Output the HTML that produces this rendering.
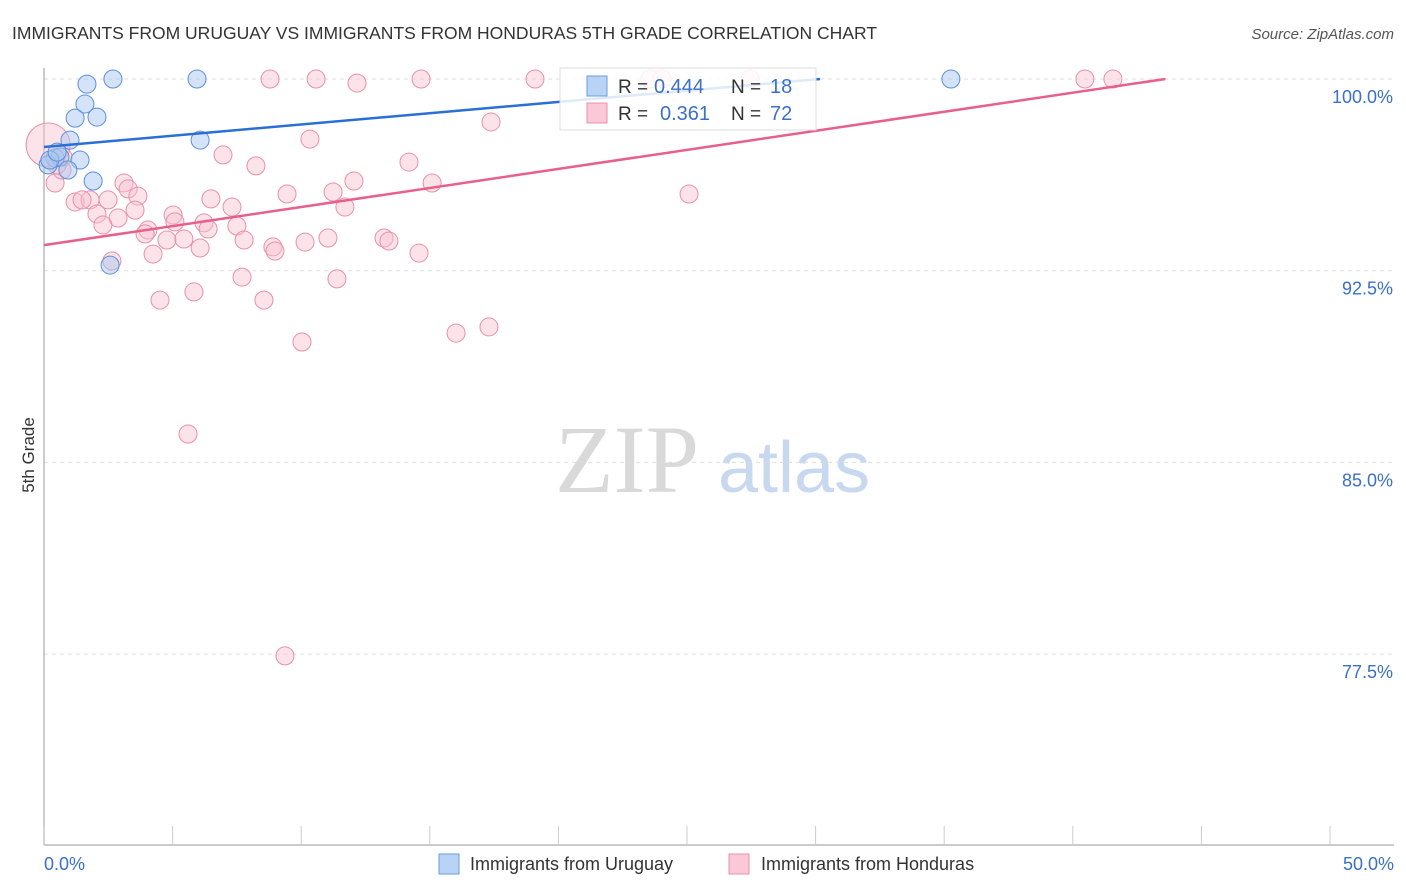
<!DOCTYPE html>
<html><head><meta charset="utf-8"><style>
body{margin:0;background:#fff;font-family:"Liberation Sans",sans-serif;}
svg{display:block}
</style></head><body>
<svg id="chart" width="1406" height="892">
<text x="12" y="39" font-size="17.5" fill="#333">IMMIGRANTS FROM URUGUAY VS IMMIGRANTS FROM HONDURAS 5TH GRADE CORRELATION CHART</text>
<text x="1394" y="39" font-size="15" fill="#555" text-anchor="end" font-style="italic">Source: ZipAtlas.com</text>
<text x="34" y="455" font-size="17" fill="#333" text-anchor="middle" transform="rotate(-90 34 455)">5th Grade</text>
<text x="555" y="492" font-size="96" fill="#d9d9d9" font-family="Liberation Serif,serif">ZIP</text>
<text x="718" y="492" font-size="72" fill="#c7d8ef">atlas</text>
<g id="grid"></g><g id="axes"></g><g id="pts"></g><g id="lines"></g>
<g>
<rect x="560" y="68" width="256" height="62" fill="#fff" fill-opacity="0.85" stroke="#ddd"/>
<rect x="587" y="76" width="20" height="20" fill="#b9d3f5" stroke="#6a9ee0"/>
<text x="618" y="93" font-size="19" fill="#333">R = </text><text x="654" y="93" font-size="20" fill="#3a70c8">0.444</text>
<text x="731" y="93" font-size="19" fill="#333">N = </text><text x="770" y="93" font-size="20" fill="#3a70c8">18</text>
<rect x="587" y="103" width="20" height="20" fill="#fac8d6" stroke="#e890aa"/>
<text x="618" y="120" font-size="19" fill="#333">R = </text><text x="660" y="120" font-size="20" fill="#3a70c8">0.361</text>
<text x="731" y="120" font-size="19" fill="#333">N = </text><text x="770" y="120" font-size="20" fill="#3a70c8">72</text>
</g>
<g>
<rect x="439" y="854" width="20" height="20" fill="#b9d3f5" stroke="#6a9ee0"/>
<text x="470" y="870" font-size="18" fill="#333">Immigrants from Uruguay</text>
<rect x="729" y="854" width="20" height="20" fill="#fac8d6" stroke="#e890aa"/>
<text x="761" y="870" font-size="18" fill="#333">Immigrants from Honduras</text>
</g>
</svg>
<script>
const xTickLabels=["0.0%","50.0%"];
const yTicks=[100,92.5,85,77.5];
const yTickLabels=["100.0%","92.5%","85.0%","77.5%"];
const uruguayX=[1.67,2.68,5.95,35.26,1.59,1.21,2.06,1.01,6.07,1.40,1.91,2.57,0.43,0.62,0.93,0.16,0.23,0.51];
const uruguayY=[99.8,100,100,100,99.02,98.47,98.51,97.61,97.61,96.83,96.01,92.72,96.91,96.95,96.44,96.64,96.83,97.14];
const hondurasX=[8.79,10.58,12.17,14.66,19.09,17.38,10.34,6.96,8.24,14.19,12.05,15.09,25.08,3.11,3.27,3.65,2.49,1.21,1.79,1.48,2.06,3.54,2.88,2.29,6.22,6.49,7.31,9.45,11.24,11.70,5.02,5.09,4.04,3.93,4.78,5.44,6.38,6.07,7.50,7.78,8.90,8.98,10.15,11.04,13.22,13.41,14.58,4.24,2.64,7.70,4.51,5.83,8.55,11.39,10.03,16.02,17.30,5.60,9.37,40.47,41.56,23.56,24.03,27.45,0.16,0.43,0.70,0.51,0.74];
const hondurasY=[100,100,99.84,100,100,98.32,97.65,97.03,96.60,96.75,96.01,95.93,95.50,95.93,95.70,95.42,95.27,95.19,95.27,95.27,94.72,94.87,94.56,94.29,94.37,95.31,94.99,95.50,95.58,94.99,94.68,94.41,94.09,93.94,93.70,93.74,94.13,93.39,94.25,93.70,93.43,93.27,93.62,93.78,93.78,93.66,93.19,93.15,92.88,92.25,91.35,91.67,91.35,92.18,89.71,90.06,90.30,86.11,77.43,100,100,100,100,100,97.42,95.93,96.44,96.64,96.95];
const uruguayTrend=[97.34,100];const uruguayTrendX=[0,30.17];
const hondurasTrend=[93.5,100];const hondurasTrendX=[0,43.6];
const NS="http://www.w3.org/2000/svg";
const X=v=>44+v*25.72, Y=v=>79+(100-v)*25.56;
function mk(tag,attrs,parent){const e=document.createElementNS(NS,tag);for(const k in attrs)e.setAttribute(k,attrs[k]);document.getElementById(parent).appendChild(e);return e;}
yTicks.forEach((t,i)=>{
 const l=mk('line',{x1:44,x2:1394,y1:Y(t),y2:Y(t),stroke:'#ddd','stroke-dasharray':'4 4'},'grid');
 
 
 const tx=mk('text',{x:1393,y:Y(t)+24,'font-size':18,fill:'#3a70c8','text-anchor':'end'},'grid');tx.textContent=yTickLabels[i];
 
 
});
const ax=mk('line',{x1:44,x2:1394,y1:845,y2:845,stroke:'#bbb','stroke-width':1.5},'axes');


const ay=mk('line',{x1:44,x2:44,y1:68,y2:845,stroke:'#bbb','stroke-width':1.5},'axes');


for(let p=0;p<=50;p+=5){const t=mk('line',{x1:X(p),x2:X(p),y1:826,y2:845,stroke:'#ccc'},'axes');
 
 }
[[0,'start',44],[50,'end',1394]].forEach((a,i)=>{const t=mk('text',{x:a[2],y:870,'font-size':18,fill:'#3a70c8','text-anchor':a[1]},'axes');t.textContent=xTickLabels[i];
 
 });
hondurasX.forEach((x,i)=>{const big=(i===64);const c=mk('circle',{cx:X(x),cy:Y(hondurasY[i]),r:big?22:9,fill:'#f8c0d0','fill-opacity':0.45,stroke:'#e890aa','stroke-width':1},'pts');
 
 });
uruguayX.forEach((x,i)=>{const c=mk('circle',{cx:X(x),cy:Y(uruguayY[i]),r:9,fill:'#a9c8f0','fill-opacity':0.5,stroke:'#5b90dc','stroke-width':1},'pts');
 
 });
const lb=mk('line',{x1:X(uruguayTrendX[0]),y1:Y(uruguayTrend[0]),x2:X(uruguayTrendX[1]),y2:Y(uruguayTrend[1]),stroke:'#2a6fd6','stroke-width':2.5},'lines');


const lp=mk('line',{x1:X(hondurasTrendX[0]),y1:Y(hondurasTrend[0]),x2:X(hondurasTrendX[1]),y2:Y(hondurasTrend[1]),stroke:'#e8608a','stroke-width':2.5},'lines');


</script>
</body></html>
